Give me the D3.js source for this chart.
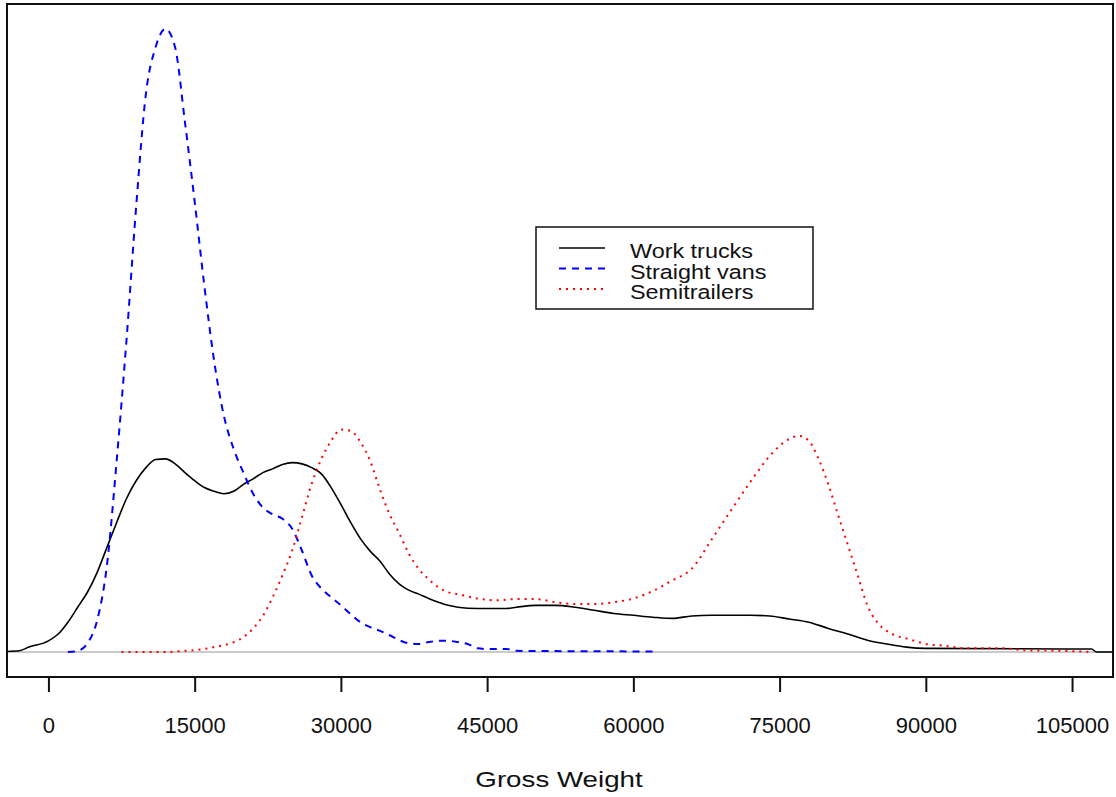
<!DOCTYPE html>
<html>
<head>
<meta charset="utf-8">
<script src="https://cdn.jsdelivr.net/npm/d3@7"></script>
<style>
  body { margin: 0; background: #fff; }
  text { font-family: "Liberation Sans", Arial, sans-serif; fill: #111; }
</style>
</head>
<body>
<div id="chart-area"></div>
<script>
// density estimates: [gross weight, density x 1e5]
var workTrucks = [
  [-4250, 0.01], [-3000, 0.02], [-2000, 0.08], [0, 0.18], [1000, 0.29], [2000, 0.48],
  [3000, 0.72], [4000, 0.96], [5000, 1.28], [6000, 1.68], [7000, 2.08], [8000, 2.46],
  [9000, 2.75], [10000, 2.96], [11000, 3.09], [12000, 3.10], [13000, 3.02], [14000, 2.88],
  [15000, 2.75], [16000, 2.64], [17000, 2.58], [18000, 2.54], [19000, 2.58], [20000, 2.69],
  [21000, 2.78], [22000, 2.88], [23000, 2.94], [24000, 3.01], [25000, 3.04], [26000, 3.02],
  [27000, 2.96], [28000, 2.86], [29000, 2.64], [30000, 2.37], [31000, 2.08], [32000, 1.82],
  [33000, 1.62], [34000, 1.46], [35000, 1.25], [36000, 1.09], [37000, 0.99], [38000, 0.93],
  [39000, 0.86], [40000, 0.80], [41000, 0.75], [42000, 0.72], [44000, 0.70], [46000, 0.70],
  [47000, 0.70], [48000, 0.72], [50000, 0.75], [52000, 0.75], [54000, 0.72], [56000, 0.67],
  [58000, 0.62], [60000, 0.59], [62000, 0.56], [64000, 0.54], [66000, 0.58], [68000, 0.59],
  [72000, 0.59], [74000, 0.58], [76000, 0.53], [78000, 0.48], [80000, 0.38], [82000, 0.29],
  [84000, 0.19], [86000, 0.13], [88000, 0.08], [90000, 0.06], [104000, 0.05], [107000, 0.05],
  [107500, 0.0], [109200, 0.0]
];

var straightVans = [
  [2000, 0.0], [3000, 0.02], [4000, 0.14], [5000, 0.51], [6000, 1.39], [7000, 3.07],
  [8000, 4.99], [9000, 7.15], [10000, 8.96], [11000, 9.71], [12000, 10.0], [13000, 9.70],
  [14000, 8.51], [15000, 7.23], [16000, 5.87], [17000, 4.67], [18000, 3.79], [19000, 3.26],
  [20000, 2.88], [21000, 2.54], [22000, 2.32], [23000, 2.21], [24000, 2.14], [25000, 1.98],
  [26000, 1.63], [27000, 1.23], [28000, 1.02], [29000, 0.88], [30000, 0.75], [31000, 0.61],
  [32000, 0.48], [33000, 0.40], [34000, 0.34], [35000, 0.27], [36000, 0.19], [37000, 0.14],
  [38000, 0.13], [39000, 0.16], [40000, 0.18], [41000, 0.18], [42000, 0.16], [43000, 0.13],
  [44000, 0.06], [45000, 0.05], [47000, 0.05], [48000, 0.02], [62000, 0.01]
];

var semitrailers = [
  [7500, 0.0], [12000, 0.0], [14000, 0.02], [15000, 0.03], [16000, 0.05], [17000, 0.08],
  [18000, 0.11], [19000, 0.16], [20000, 0.24], [21000, 0.38], [22000, 0.58], [23000, 0.88],
  [24000, 1.23], [25000, 1.63], [26000, 2.16], [27000, 2.70], [28000, 3.10], [29000, 3.39],
  [30000, 3.57], [31000, 3.55], [32000, 3.37], [33000, 3.07], [34000, 2.61], [35000, 2.21],
  [36000, 1.90], [37000, 1.57], [38000, 1.33], [39000, 1.17], [40000, 1.04], [41000, 0.96],
  [42000, 0.93], [44000, 0.86], [46000, 0.83], [48000, 0.85], [50000, 0.85], [52000, 0.80],
  [54000, 0.77], [56000, 0.77], [58000, 0.80], [60000, 0.86], [62000, 0.98], [64000, 1.15],
  [66000, 1.34], [68000, 1.80], [70000, 2.27], [72000, 2.73], [74000, 3.15], [76000, 3.42],
  [77000, 3.47], [78000, 3.39], [79000, 3.10], [80000, 2.69], [81000, 2.20], [82000, 1.72],
  [83000, 1.24], [84000, 0.75], [85000, 0.48], [86000, 0.34], [87000, 0.26], [88000, 0.22],
  [90000, 0.13], [92000, 0.10], [94000, 0.06], [98000, 0.06], [100000, 0.03], [104000, 0.02],
  [107000, 0.0]
];

var xTicks = [0, 15000, 30000, 45000, 60000, 75000, 90000, 105000];
var seriesNames = ['Work trucks', 'Straight vans', 'Semitrailers'];

var def = {
  width: 1116,
  height: 797,
  left: 7,
  right: 1113,
  top: 4,
  bottom: 677
};

var styles = [
  { color: '#000', dash: null, width: 1.6 },
  { color: '#0000ff', dash: '7,6', width: 2 },
  { color: '#ff0000', dash: '2,5', width: 2 }
];

var svg = d3.select('#chart-area').append('svg')
  .attr('width', def.width)
  .attr('height', def.height);

// scales, R style 4% padding on y
var x = d3.scaleLinear()
  .domain([-4250, 109200])
  .range([def.left, def.right]);

var yMax = 10;
var y = d3.scaleLinear()
  .domain([-0.04 * yMax, yMax * 1.04])
  .range([def.bottom, def.top]);

svg.append('clipPath').attr('id', 'plot-clip')
  .append('rect')
  .attr('x', def.left).attr('y', def.top)
  .attr('width', def.right - def.left)
  .attr('height', def.bottom - def.top);

var plot = svg.append('g').attr('clip-path', 'url(#plot-clip)');

// zero line
plot.append('line')
  .attr('x1', def.left).attr('x2', def.right)
  .attr('y1', y(0)).attr('y2', y(0))
  .attr('stroke', '#b8b8b8')
  .attr('stroke-width', 1.6);

var line = d3.line()
  .x(d => x(d[0]))
  .y(d => y(d[1]))
  .curve(d3.curveMonotoneX);

[workTrucks, straightVans, semitrailers].forEach((dat, i) => {
  plot.append('path')
    .datum(dat)
    .attr('d', line)
    .attr('fill', 'none')
    .attr('stroke', styles[i].color)
    .attr('stroke-width', styles[i].width)
    .attr('stroke-dasharray', styles[i].dash);
});

// frame
svg.append('rect')
  .attr('x', def.left).attr('y', def.top)
  .attr('width', def.right - def.left)
  .attr('height', def.bottom - def.top)
  .attr('fill', 'none')
  .attr('stroke', '#111')
  .attr('stroke-width', 2);

// x axis
var xAx = d3.axisBottom(x)
  .tickValues(xTicks)
  .tickSize(14)
  .tickFormat(d3.format('d'));

var xUnit = svg.append('g')
  .attr('transform', 'translate(0,' + (def.bottom + 1) + ')')
  .call(xAx);
xUnit.select('.domain').remove();
xUnit.selectAll('.tick line').attr('stroke', '#111').attr('stroke-width', 2);
xUnit.selectAll('.tick text')
  .attr('y', 55)
  .attr('dy', 0)
  .attr('font-size', '22px')
  .attr('font-family', '"Liberation Sans", Arial, sans-serif')
  .attr('fill', '#111');

// X Label
svg.append('text')
  .attr('transform', 'translate(559,787) scale(1.26,1)')
  .attr('text-anchor', 'middle')
  .attr('font-size', '22px')
  .text('Gross Weight');

// legend
var legend = svg.append('g');
legend.append('rect')
  .attr('x', 536).attr('y', 227)
  .attr('width', 277).attr('height', 82)
  .attr('fill', '#fff')
  .attr('stroke', '#111')
  .attr('stroke-width', 1.5);

seriesNames.forEach((name, i) => {
  var ly = 248 + i * 20.5;
  legend.append('line')
    .attr('x1', 559).attr('x2', 605)
    .attr('y1', ly).attr('y2', ly)
    .attr('stroke', styles[i].color)
    .attr('stroke-width', i == 0 ? 1.6 : 2)
    .attr('stroke-dasharray', styles[i].dash);
  legend.append('text')
    .attr('transform', 'translate(630,' + (ly + 10) + ') scale(1.2,1)')
    .attr('font-size', '19.5px')
    .text(name);
});
</script>
</body>
</html>
